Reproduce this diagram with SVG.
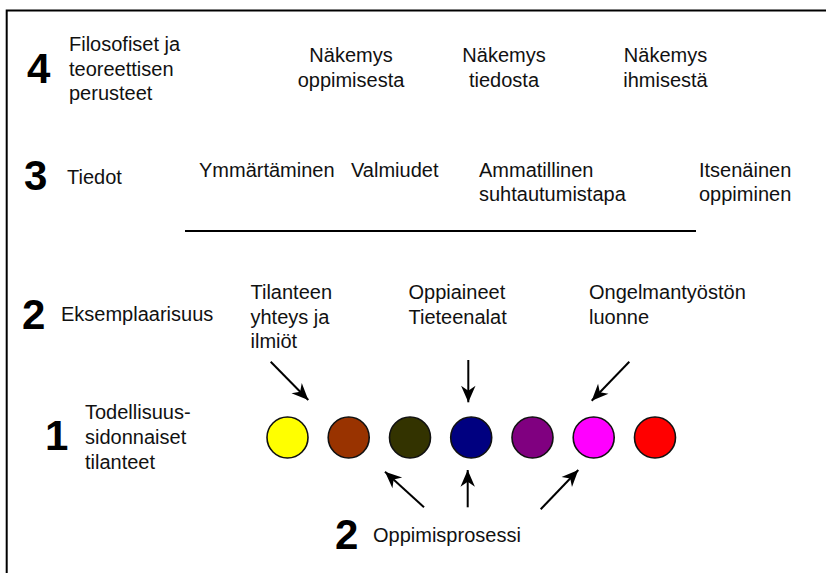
<svg xmlns="http://www.w3.org/2000/svg" width="826" height="573" viewBox="0 0 826 573">
  <style>
    text { font-family: "Liberation Sans", Arial, sans-serif; font-size: 20px; fill: #111; }
    .num { font-size: 42px; font-weight: bold; fill: #000; }
    .mid { text-anchor: middle; }
    .dot { stroke: #111; stroke-width: 1.6; }
    .arrow { stroke: #000; stroke-width: 2; fill: none; marker-end: url(#head); }
    .rule { stroke: #000; stroke-width: 2; fill: none; }
  </style>
  <defs>
    <marker id="head" markerUnits="userSpaceOnUse" markerWidth="20" markerHeight="20" viewBox="-16 -8 18 16" refX="0" refY="0" orient="auto">
      <path d="M0,0 L-15,-6.5 L-10.5,0 L-15,6.5 Z" fill="#000"/>
    </marker>
  </defs>

  <rect width="826" height="573" fill="#fff"/>

  <!-- open frame: top and left edges only -->
  <path class="rule" d="M6.7,573 V10.5 H826"/>

  <!-- level 4 -->
  <g id="level4">
    <text class="num" x="27" y="83">4</text>
    <text x="69" y="51">Filosofiset ja</text>
    <text x="69" y="75.5">teoreettisen</text>
    <text x="69" y="100">perusteet</text>
  </g>
  <g id="view-learning">
    <text class="mid" x="351" y="62">Näkemys</text>
    <text class="mid" x="351" y="87">oppimisesta</text>
  </g>
  <g id="view-knowledge">
    <text class="mid" x="504" y="62">Näkemys</text>
    <text class="mid" x="504" y="87">tiedosta</text>
  </g>
  <g id="view-human">
    <text class="mid" x="665.5" y="62">Näkemys</text>
    <text class="mid" x="665.5" y="87">ihmisestä</text>
  </g>

  <!-- level 3 -->
  <g id="level3">
    <text class="num" x="24" y="190">3</text>
    <text x="67" y="184">Tiedot</text>
  </g>
  <g id="understanding"><text x="199" y="177">Ymmärtäminen</text></g>
  <g id="skills"><text x="351" y="177">Valmiudet</text></g>
  <g id="attitude">
    <text x="479" y="177">Ammatillinen</text>
    <text x="479" y="201">suhtautumistapa</text>
  </g>
  <g id="independent">
    <text x="699" y="177">Itsenäinen</text>
    <text x="699" y="201">oppiminen</text>
  </g>
  <line class="rule" x1="185" y1="231" x2="696" y2="231"/>

  <!-- level 2 -->
  <g id="level2">
    <text class="num" x="22" y="329">2</text>
    <text x="61" y="321">Eksemplaarisuus</text>
  </g>
  <g id="situation">
    <text x="250.5" y="299">Tilanteen</text>
    <text x="250.5" y="323.5">yhteys ja</text>
    <text x="250.5" y="348">ilmiöt</text>
  </g>
  <g id="subjects">
    <text x="408.5" y="299">Oppiaineet</text>
    <text x="408.5" y="323.5">Tieteenalat</text>
  </g>
  <g id="problem">
    <text x="589" y="299">Ongelmantyöstön</text>
    <text x="589" y="323.5">luonne</text>
  </g>

  <!-- level 1 -->
  <g id="level1">
    <text class="num" x="45" y="450">1</text>
    <text x="85" y="419">Todellisuus-</text>
    <text x="85" y="444">sidonnaiset</text>
    <text x="85" y="469">tilanteet</text>
  </g>
  <g id="situations">
    <circle class="dot" cx="287.5" cy="437.5" r="20.5" fill="#FFFF00"/>
    <circle class="dot" cx="348.7" cy="437.5" r="20.5" fill="#993300"/>
    <circle class="dot" cx="410" cy="437.5" r="20.5" fill="#333300"/>
    <circle class="dot" cx="471.2" cy="437.5" r="20.5" fill="#000080"/>
    <circle class="dot" cx="532.5" cy="437.5" r="20.5" fill="#800080"/>
    <circle class="dot" cx="593.7" cy="437.5" r="20.5" fill="#FF00FF"/>
    <circle class="dot" cx="655" cy="437.5" r="20.5" fill="#FF0000"/>
  </g>

  <!-- learning process -->
  <g id="process">
    <text class="num" x="335" y="549">2</text>
    <text x="373" y="542">Oppimisprosessi</text>
  </g>

  <g id="connectors">
    <line class="arrow" x1="270.7" y1="361.7" x2="308.3" y2="400"/>
    <line class="arrow" x1="468.3" y1="360" x2="468.3" y2="402.3"/>
    <line class="arrow" x1="629.3" y1="361.7" x2="591.7" y2="400.7"/>
    <line class="arrow" x1="424" y1="507.3" x2="385" y2="471.7"/>
    <line class="arrow" x1="467.7" y1="507.3" x2="467.7" y2="470"/>
    <line class="arrow" x1="540.7" y1="509.3" x2="578.3" y2="470"/>
  </g>
</svg>
